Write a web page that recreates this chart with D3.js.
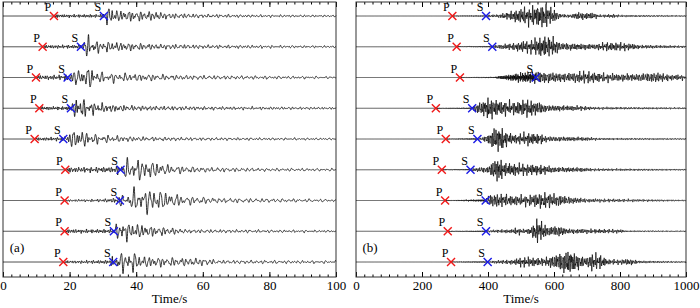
<!DOCTYPE html>
<html>
<head>
<meta charset="utf-8">
<script src="https://cdn.jsdelivr.net/npm/d3@7"></script>
<style>
  body { margin: 0; background: #fff; }
  svg { display: block; }
  svg text { font-family: "Liberation Serif", "Times New Roman", serif; }
</style>
</head>
<body>
<div id="chart"></div>
<script>
// Picked P and S arrival times (s)
const pickPA = [15.3, 11.9, 9.9, 10.9, 9.5, 18.7, 18.5, 18.5, 18.1];
const pickSA = [30.3, 23.4, 19.4, 20.4, 18.1, 35.3, 35.1, 33.3, 33.1];
const pickPB = [292, 305, 315, 242, 272, 260, 270, 278, 288];
const pickSB = [394, 413, 545, 352, 368, 347, 393, 394, 399];

// Envelope knots [time, relative amplitude]
const envA = [
  [[15.3,0],[15.5,0.25],[16.5,0.12],[29.5,0.12],[30.5,0.4],[32,0.8],[34,0.45],[46,0.35],[50,0.22],[60,0.15],[75,0.1],[100,0.07]],
  [[11.9,0],[12.1,0.2],[13,0.12],[23,0.14],[24,0.5],[25.5,0.85],[28,0.45],[35,0.35],[45,0.22],[60,0.15],[100,0.07]],
  [[9.9,0],[10.1,0.2],[11,0.16],[19,0.2],[20,0.5],[24,0.65],[26,0.85],[29,0.4],[40,0.3],[55,0.18],[100,0.08]],
  [[10.9,0],[11.1,0.15],[12,0.12],[20,0.14],[21,0.5],[22.5,0.9],[26,0.5],[32,0.3],[40,0.2],[60,0.14],[100,0.08]],
  [[9.5,0],[9.7,0.15],[10.5,0.12],[18,0.15],[19,0.45],[22,0.75],[26,0.45],[30,0.3],[40,0.18],[60,0.12],[100,0.07]],
  [[18.7,0],[19,0.2],[20,0.2],[33,0.22],[35,0.4],[37,0.75],[40,0.85],[46,0.6],[50,0.35],[60,0.2],[80,0.12],[100,0.1]],
  [[18.5,0],[18.8,0.1],[20,0.08],[30,0.12],[34,0.2],[36,0.5],[40,0.9],[45,0.95],[50,0.6],[55,0.35],[65,0.2],[100,0.1]],
  [[18.5,0],[18.8,0.15],[20,0.15],[33,0.15],[34,0.5],[35.5,0.85],[38,0.65],[45,0.4],[50,0.3],[55,0.15],[100,0.08]],
  [[18.1,0],[18.4,0.12],[20,0.1],[32,0.15],[33.5,0.6],[35,0.75],[39,0.8],[42,0.45],[50,0.35],[60,0.3],[65,0.15],[100,0.1]]
];
const envB = [
  [[292,0],[294,0.06],[300,0.03],[394,0.04],[400,0.1],[430,0.12],[460,0.3],[500,0.6],[540,0.8],[575,0.9],[600,0.5],[620,0.15],[650,0.12],[670,0.3],[720,0.25],[740,0.1],[780,0.15],[800,0.08],[1000,0.05]],
  [[305,0],[307,0.05],[320,0.03],[413,0.05],[420,0.12],[480,0.3],[530,0.55],[570,0.85],[600,0.7],[620,0.3],[680,0.25],[720,0.2],[760,0.35],[820,0.3],[860,0.15],[1000,0.08]],
  [[315,0],[317,0.05],[330,0.03],[420,0.05],[440,0.15],[500,0.35],[550,0.5],[600,0.38],[650,0.35],[690,0.5],[750,0.35],[800,0.3],[850,0.28],[910,0.4],[950,0.25],[1000,0.2]],
  [[242,0],[244,0.05],[260,0.03],[352,0.05],[360,0.3],[380,0.5],[400,0.85],[430,0.6],[480,0.5],[520,0.7],[550,0.5],[580,0.25],[620,0.22],[690,0.18],[720,0.1],[1000,0.06]],
  [[272,0],[274,0.05],[290,0.03],[368,0.06],[380,0.1],[400,0.35],[420,0.9],[440,0.95],[460,0.5],[480,0.35],[520,0.5],[560,0.4],[580,0.2],[700,0.15],[740,0.08],[1000,0.05]],
  [[260,0],[262,0.05],[280,0.03],[347,0.05],[360,0.15],[400,0.25],[420,0.8],[432,0.95],[450,0.55],[500,0.45],[560,0.4],[600,0.22],[680,0.18],[720,0.1],[1000,0.05]],
  [[270,0],[272,0.05],[290,0.03],[393,0.1],[400,0.45],[430,0.55],[470,0.4],[520,0.42],[570,0.65],[600,0.5],[650,0.28],[700,0.15],[800,0.12],[1000,0.05]],
  [[278,0],[280,0.04],[300,0.03],[394,0.05],[420,0.12],[470,0.15],[490,0.3],[510,0.15],[530,0.3],[548,0.95],[565,0.7],[580,0.35],[620,0.4],[640,0.2],[800,0.15],[820,0.06],[1000,0.04]],
  [[288,0],[290,0.04],[300,0.03],[399,0.05],[420,0.12],[480,0.2],[500,0.4],[540,0.35],[570,0.3],[610,0.6],[645,0.95],[680,0.5],[695,0.3],[715,0.7],[740,0.55],[765,0.2],[800,0.2],[830,0.25],[860,0.1],[1000,0.05]]
];

// Dominant periods (s) after S, read from wiggle spacing
const periodA = [1.2, 1.2, 1.4, 1.1, 1.3, 1.5, 1.6, 1.3, 1.4];
const periodB = [5, 5, 5.5, 5, 5, 5, 5.5, 5, 5];

const ticksA = d3.range(0, 101, 20);
const ticksB = d3.range(0, 1001, 200);
const panelLabels = ["(a)", "(b)"];

const W = 700, H = 308;
const yTop = 2, yBottom = 277;
const serif = "Liberation Serif, Times New Roman, serif";

const svg = d3.select("#chart").append("svg")
  .attr("width", W).attr("height", H)
  .attr("font-family", serif);

// rows of traces
const yRow = d3.scalePoint().domain(d3.range(9)).range([16, 262]);
const amp = d3.scaleLinear().domain([0, 1]).range([0, 13]);

// carrier: sum of incommensurate sines, shaped by the read envelope
const ratios = [1, 1.37, 1.83, 2.71, 0.61];
const weights = [0.45, 0.3, 0.22, 0.15, 0.2];
function wiggle(env, pP, pS, T, tMax, dt, k) {
  const envAt = d3.scaleLinear().domain(env.map(d => d[0])).range(env.map(d => d[1])).clamp(true);
  const pts = [];
  let ph = 0;
  for (let t = 0; t <= tMax + 1e-9; t += dt) {
    let v = 0;
    if (t >= pP) {
      const per = t < pS ? T * 0.5 : T;
      ph += 2 * Math.PI * dt / per;
      let s = 0;
      ratios.forEach((r, j) => { s += weights[j] * Math.sin(r * ph + j * 1.7 + k * 0.9); });
      v = envAt(t) * s;
    }
    pts.push([t, v]);
  }
  return pts;
}

const panels = [
  { x0: 3, x1: 336, max: 100, ticks: ticksA, minor: 2.5, P: pickPA, S: pickSA, env: envA, per: periodA, dt: 0.05, label: panelLabels[0] },
  { x0: 356, x1: 686, max: 1000, ticks: ticksB, minor: 25, P: pickPB, S: pickSB, env: envB, per: periodB, dt: 0.4, label: panelLabels[1] }
];

panels.forEach(function (p) {
  const x = d3.scaleLinear().domain([0, p.max]).range([p.x0, p.x1]);
  const g = svg.append("g");

  const minorVals = d3.range(0, p.max + 1e-6, p.minor);

  // bottom axis: minor then major (ticks point inward)
  g.append("g").attr("transform", `translate(0,${yBottom})`)
    .call(d3.axisBottom(x).tickValues(minorVals).tickSize(-2.5).tickFormat(""))
    .call(a => a.select(".domain").remove());
  g.append("g").attr("transform", `translate(0,${yBottom})`)
    .call(d3.axisBottom(x).tickValues(p.ticks).tickSize(-5).tickPadding(4).tickFormat(d3.format("d")))
    .attr("font-family", serif).attr("font-size", 13)
    .call(a => a.select(".domain").remove());
  // top axis
  g.append("g").attr("transform", `translate(0,${yTop})`)
    .call(d3.axisTop(x).tickValues(minorVals).tickSize(-2.5).tickFormat(""))
    .call(a => a.select(".domain").remove());
  g.append("g").attr("transform", `translate(0,${yTop})`)
    .call(d3.axisTop(x).tickValues(p.ticks).tickSize(-5).tickFormat(""))
    .call(a => a.select(".domain").remove());

  g.append("rect")
    .attr("x", p.x0).attr("y", yTop)
    .attr("width", p.x1 - p.x0).attr("height", yBottom - yTop)
    .attr("fill", "none").attr("stroke", "#333").attr("stroke-width", 1);

  // traces
  const line = d3.line();
  p.env.forEach(function (env, i) {
    const pts = wiggle(env, p.P[i], p.S[i], p.per[i], p.max, p.dt, i);
    g.append("path")
      .attr("d", line(pts.map(d => [x(d[0]), yRow(i) - amp(d[1])])))
      .attr("fill", "none")
      .attr("stroke", "#000")
      .attr("stroke-width", p.max > 100 ? 0.7 : 0.8);
  });

  // P and S picks
  const picks = [];
  d3.range(9).forEach(i => {
    picks.push({ t: p.P[i], row: i, name: "P", color: "#f01818" });
    picks.push({ t: p.S[i], row: i, name: "S", color: "#1a1ae6" });
  });
  const mk = g.selectAll(".pick").data(picks).join("g")
    .attr("class", "pick")
    .attr("transform", d => `translate(${x(d.t)},${yRow(d.row)})`);
  mk.append("path")
    .attr("d", "M-4,-4L4,4M-4,4L4,-4")
    .attr("stroke", d => d.color)
    .attr("stroke-width", 1.4)
    .attr("fill", "none");
  mk.append("text")
    .attr("x", -6).attr("y", -5)
    .attr("text-anchor", "middle")
    .attr("font-size", 12)
    .text(d => d.name);

  g.append("text")
    .attr("x", p.x0 + 14).attr("y", 252)
    .attr("text-anchor", "middle")
    .attr("font-size", 13)
    .text(p.label);

  g.append("text")
    .attr("x", (p.x0 + p.x1) / 2).attr("y", 303)
    .attr("text-anchor", "middle")
    .attr("font-size", 13)
    .text("Time/s");
});
</script>
</body>
</html>
